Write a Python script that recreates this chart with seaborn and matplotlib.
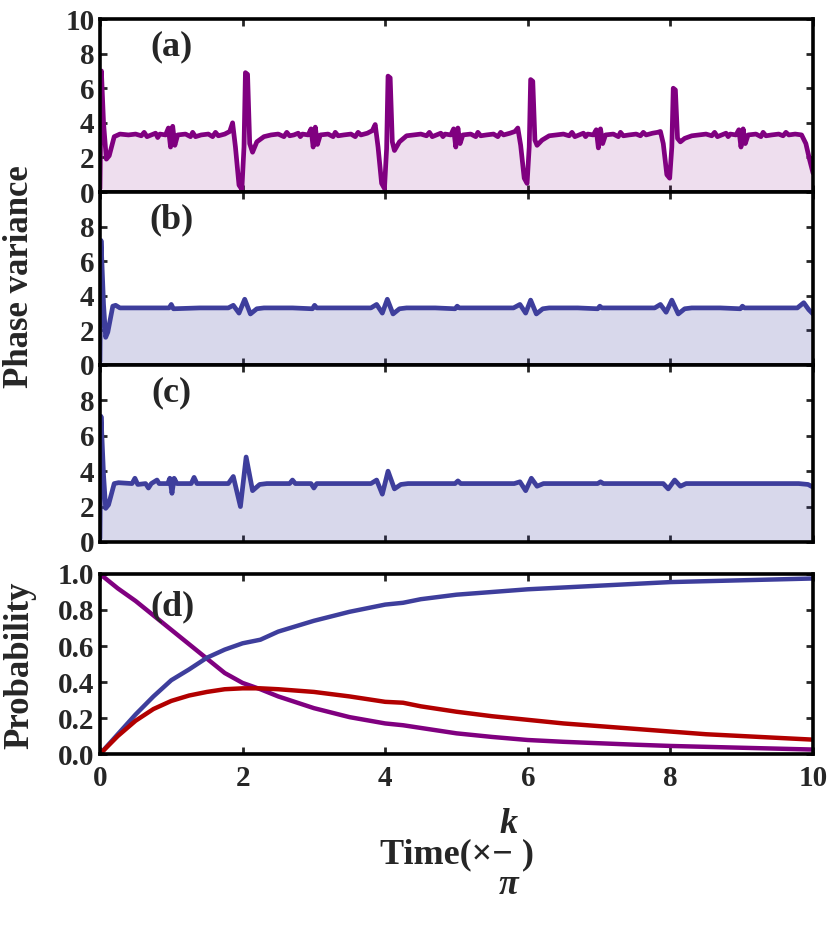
import numpy as np
import matplotlib
matplotlib.use("Agg")
import matplotlib.pyplot as plt
import seaborn as sns

# ---- data ----
# (a) phase variance, purple
a_time = [0.00, 0.02, 0.05, 0.09, 0.13, 0.20, 0.28,
          0.40, 0.50, 0.58, 0.62, 0.66, 0.72, 0.78, 0.81, 0.84, 0.92, 0.96, 0.99, 1.02, 1.05, 1.09,
          1.20, 1.27, 1.30, 1.34, 1.42, 1.52, 1.58, 1.62, 1.66, 1.75, 1.82, 1.86, 1.90, 1.95, 1.99,
          2.02, 2.04, 2.07, 2.10, 2.14, 2.20, 2.30,
          2.40, 2.50, 2.58, 2.62, 2.66, 2.72, 2.78, 2.81, 2.84, 2.92, 2.96, 2.99, 3.02, 3.05, 3.09,
          3.20, 3.27, 3.30, 3.34, 3.42, 3.52, 3.58, 3.62, 3.66, 3.75, 3.82, 3.86, 3.90, 3.95, 3.99,
          4.02, 4.04, 4.07, 4.10, 4.13, 4.20, 4.30,
          4.40, 4.50, 4.58, 4.62, 4.66, 4.72, 4.78, 4.81, 4.84, 4.92, 4.96, 4.99, 5.02, 5.05, 5.09,
          5.20, 5.27, 5.30, 5.34, 5.42, 5.52, 5.58, 5.62, 5.66, 5.75, 5.82, 5.86, 5.90, 5.95, 5.99,
          6.02, 6.04, 6.07, 6.10, 6.13, 6.20, 6.30,
          6.40, 6.50, 6.58, 6.62, 6.66, 6.72, 6.78, 6.81, 6.84, 6.92, 6.96, 6.99, 7.02, 7.05, 7.09,
          7.20, 7.27, 7.30, 7.34, 7.42, 7.52, 7.58, 7.62, 7.66, 7.75, 7.82, 7.86, 7.90, 7.95, 7.99,
          8.02, 8.04, 8.07, 8.10, 8.14, 8.20, 8.30,
          8.40, 8.50, 8.58, 8.62, 8.66, 8.72, 8.78, 8.81, 8.84, 8.92, 8.96, 8.99, 9.02, 9.05, 9.09,
          9.20, 9.27, 9.30, 9.34, 9.42, 9.52, 9.58, 9.62, 9.66, 9.75, 9.84, 9.90, 9.95, 10.00]
a_var = [0.2, 7.0, 4.0, 1.9, 2.1, 3.2, 3.35,
         3.3, 3.35, 3.25, 3.45, 3.2, 3.3, 3.4, 3.15, 3.35, 3.3, 3.7, 2.6, 3.8, 2.7, 3.3,
         3.35, 3.2, 3.45, 3.2, 3.3, 3.35, 3.2, 3.45, 3.25, 3.35, 3.5, 4.0, 2.6, 0.4, 0.15,
         2.6, 6.9, 6.8, 2.8, 2.3, 2.9, 3.2,
         3.3, 3.35, 3.2, 3.45, 3.25, 3.3, 3.4, 3.2, 3.35, 3.3, 3.65, 2.6, 3.75, 2.75, 3.3,
         3.35, 3.2, 3.45, 3.25, 3.3, 3.35, 3.2, 3.45, 3.3, 3.4, 3.55, 3.9, 2.6, 0.5, 0.2,
         2.5, 6.7, 6.6, 2.9, 2.4, 2.9, 3.25,
         3.3, 3.35, 3.25, 3.45, 3.2, 3.3, 3.4, 3.2, 3.35, 3.3, 3.65, 2.6, 3.7, 2.8, 3.3,
         3.35, 3.2, 3.45, 3.25, 3.3, 3.35, 3.2, 3.45, 3.3, 3.4, 3.5, 3.7, 2.7, 0.8, 0.5,
         2.6, 6.5, 6.4, 3.0, 2.7, 3.0, 3.25,
         3.3, 3.35, 3.25, 3.45, 3.2, 3.3, 3.4, 3.2, 3.35, 3.3, 3.6, 2.55, 3.65, 2.8, 3.3,
         3.35, 3.2, 3.45, 3.25, 3.3, 3.35, 3.25, 3.45, 3.3, 3.4, 3.45, 3.5, 2.8, 1.0, 0.8,
         2.6, 6.0, 5.9, 3.1, 2.9, 3.1, 3.25,
         3.3, 3.35, 3.25, 3.45, 3.2, 3.3, 3.4, 3.2, 3.35, 3.3, 3.6, 2.6, 3.65, 2.8, 3.3,
         3.35, 3.2, 3.45, 3.25, 3.3, 3.35, 3.25, 3.45, 3.3, 3.35, 3.3, 2.8, 1.9, 1.1]

# (b) phase variance, blue
b_time = [0.00, 0.015, 0.05, 0.08, 0.11, 0.18, 0.22, 0.28,
          0.60, 0.97, 1.00, 1.03,
          1.40, 1.80, 1.87, 1.95, 2.03, 2.11, 2.20, 2.30,
          2.70, 2.98, 3.01, 3.04,
          3.40, 3.80, 3.88, 3.96, 4.03, 4.11, 4.20, 4.30,
          4.70, 4.98, 5.01, 5.04,
          5.40, 5.80, 5.89, 5.97, 6.04, 6.12, 6.21, 6.30,
          6.70, 6.98, 7.01, 7.04,
          7.40, 7.78, 7.86, 7.94, 8.02, 8.11, 8.20, 8.30,
          8.70, 8.98, 9.01, 9.04,
          9.40, 9.78, 9.87, 9.94, 10.00]
b_var = [0.2, 7.2, 3.5, 1.6, 1.9, 3.4, 3.45, 3.3,
         3.3, 3.3, 3.5, 3.25,
         3.3, 3.3, 3.45, 3.0, 3.8, 2.95, 3.25, 3.3,
         3.3, 3.25, 3.45, 3.3,
         3.3, 3.3, 3.5, 3.0, 3.8, 2.95, 3.25, 3.3,
         3.3, 3.25, 3.4, 3.3,
         3.3, 3.3, 3.5, 3.0, 3.75, 2.95, 3.25, 3.3,
         3.3, 3.25, 3.4, 3.3,
         3.3, 3.3, 3.5, 3.05, 3.75, 2.95, 3.25, 3.3,
         3.3, 3.25, 3.4, 3.3,
         3.3, 3.3, 3.6, 3.2, 2.95]

# (c) phase variance, blue
c_time = [0.00, 0.015, 0.05, 0.08, 0.12, 0.20, 0.26,
          0.45, 0.49, 0.53,
          0.64, 0.68, 0.72,
          0.80, 0.83,
          0.95, 0.98, 1.01, 1.04, 1.08,
          1.28, 1.32, 1.36,
          1.60, 1.80, 1.87, 1.97, 2.05, 2.14, 2.24, 2.34,
          2.66, 2.70, 2.74,
          2.96, 3.00, 3.04,
          3.40, 3.80, 3.88, 3.96, 4.04, 4.13, 4.22, 4.32,
          4.98, 5.02, 5.06,
          5.40, 5.81, 5.89, 5.97, 6.05, 6.13, 6.22,
          6.60, 6.98, 7.02, 7.06,
          7.40, 7.82, 7.90, 7.97, 8.06, 8.14, 8.22,
          8.60, 9.00, 9.40, 9.80, 9.93, 10.00]
c_var = [0.2, 7.1, 3.8, 1.9, 2.1, 3.3, 3.35,
         3.3, 3.6, 3.25,
         3.3, 3.05, 3.3,
         3.5, 3.3,
         3.3, 3.6, 2.75, 3.6, 3.3,
         3.3, 3.65, 3.3,
         3.3, 3.3, 3.7, 2.0, 4.8, 2.9, 3.25, 3.3,
         3.3, 3.5, 3.3,
         3.3, 3.05, 3.3,
         3.3, 3.3, 3.5, 2.7, 4.0, 3.0, 3.25, 3.3,
         3.3, 3.45, 3.3,
         3.3, 3.3, 3.4, 2.9, 3.6, 3.15, 3.3,
         3.3, 3.3, 3.4, 3.3,
         3.3, 3.3, 3.3, 3.0, 3.5, 3.15, 3.3,
         3.3, 3.3, 3.3, 3.3, 3.25, 3.1]

# (d) probabilities
d_time = [0, 0.25, 0.5, 0.75, 1, 1.25, 1.5, 1.75, 2, 2.25, 2.5, 3, 3.5, 4, 4.25,
          4.5, 5, 5.5, 6, 6.5, 7, 7.5, 8, 8.5, 9, 9.5, 10]
p_purple = [1.0, 0.92, 0.85, 0.77, 0.69, 0.61, 0.53, 0.45, 0.395, 0.36, 0.32, 0.255, 0.205,
            0.17, 0.16, 0.145, 0.115, 0.095, 0.078, 0.068, 0.06, 0.052, 0.045, 0.04, 0.035,
            0.03, 0.025]
p_blue = [0.0, 0.11, 0.22, 0.32, 0.41, 0.47, 0.535, 0.58, 0.615, 0.635, 0.68, 0.74, 0.79,
          0.83, 0.84, 0.86, 0.885, 0.90, 0.915, 0.925, 0.935, 0.945, 0.955, 0.96, 0.965,
          0.97, 0.975]
p_red = [0.0, 0.10, 0.185, 0.25, 0.295, 0.325, 0.345, 0.36, 0.365, 0.365, 0.36, 0.345, 0.32,
         0.29, 0.285, 0.265, 0.235, 0.21, 0.19, 0.17, 0.155, 0.14, 0.125, 0.11, 0.10, 0.09,
         0.08]

x_ticks = [0, 2, 4, 6, 8, 10]
var_ticks = [0, 2, 4, 6, 8, 10]
prob_ticks = [0.0, 0.2, 0.4, 0.6, 0.8, 1.0]
panel_tags = ["(a)", "(b)", "(c)", "(d)"]

purple = "#800080"
blue = "#3e3e9c"
red = "#b20000"

sns.set_style("ticks")
plt.rcParams["font.family"] = ["Liberation Serif", "DejaVu Serif"]
plt.rcParams["font.weight"] = "bold"

fig = plt.figure(figsize=(8.33, 9.33), dpi=100)
left, width = 0.120, 0.856
ax_a = fig.add_axes([left, 0.7942, width, 0.1854])
ax_b = fig.add_axes([left, 0.6088, width, 0.1854])
ax_c = fig.add_axes([left, 0.4191, width, 0.1897])
ax_d = fig.add_axes([left, 0.1918, width, 0.1930])


def style_axis(ax, yticks, ylim, fmt):
    ax.set_xlim(0, 10)
    ax.set_ylim(*ylim)
    ax.set_xticks(x_ticks)
    ax.set_yticks(yticks)
    ax.set_yticklabels([fmt.format(v) for v in yticks])
    ax.tick_params(direction="in", length=5, width=2, top=True, right=True,
                   labelsize=21, pad=4)
    for sp in ax.spines.values():
        sp.set_linewidth(2.6)
        sp.set_color("black")
        sp.set_visible(True)
    ax.set_xlabel("")
    ax.set_ylabel("")


series = [(ax_a, a_time, a_var, purple, 0.13),
          (ax_b, b_time, b_var, blue, 0.2),
          (ax_c, c_time, c_var, blue, 0.2)]
for i, (ax, t, v, col, alp) in enumerate(series):
    ax.fill_between(t, v, 0, color=col, alpha=alp, linewidth=0)
    sns.lineplot(x=t, y=v, ax=ax, color=col, linewidth=3.4, errorbar=None, sort=False)
    style_axis(ax, var_ticks, (0, 10), "{:d}")
    ax.set_xticklabels([])
    if i > 0:
        labs = [str(v) for v in var_ticks[:-1]] + [""]
        ax.set_yticklabels(labs)
    ax.text(1.0, 8.4, panel_tags[i], fontsize=26, fontweight="bold",
            ha="center", va="center")

sns.lineplot(x=d_time, y=p_purple, ax=ax_d, color=purple, linewidth=3.2, errorbar=None)
sns.lineplot(x=d_time, y=p_blue, ax=ax_d, color=blue, linewidth=3.2, errorbar=None)
sns.lineplot(x=d_time, y=p_red, ax=ax_d, color=red, linewidth=3.2, errorbar=None)
style_axis(ax_d, prob_ticks, (0, 1), "{:.1f}")
ax_d.tick_params(axis="x", pad=8)
ax_d.text(1.02, 0.82, panel_tags[3], fontsize=26, fontweight="bold",
          ha="center", va="center")

fig.text(0.024, 0.704, "Phase variance", rotation=90, fontsize=25, fontweight="bold",
         ha="center", va="center")
fig.text(0.024, 0.287, "Probability", rotation=90, fontsize=25, fontweight="bold",
         ha="center", va="center")

fig.text(0.456, 0.075, "Time(\u00d7\u2212 )", fontsize=26, fontweight="bold",
         ha="left", va="baseline")
fig.text(0.610, 0.107, "k", fontsize=26, fontweight="bold", style="italic",
         ha="center", va="baseline")
fig.text(0.610, 0.042, "\u03c0", fontsize=26, fontweight="bold", style="italic",
         ha="center", va="baseline")

fig.savefig("out.png", dpi=100)
